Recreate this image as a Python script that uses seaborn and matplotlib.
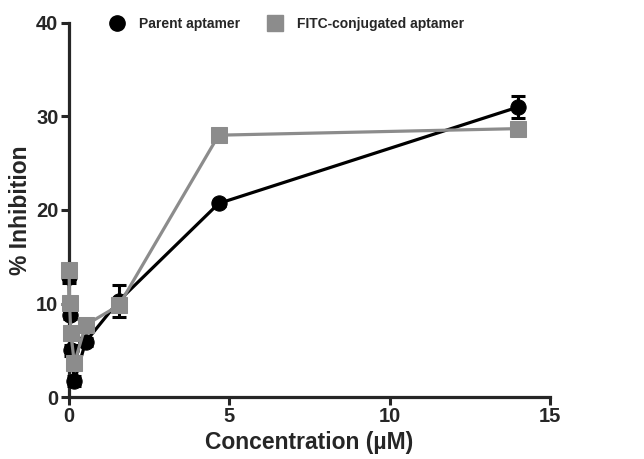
import matplotlib
matplotlib.use("Agg")
import matplotlib.pyplot as plt
import seaborn as sns
import pandas as pd
from matplotlib.lines import Line2D

conc = [0.0064, 0.019, 0.058, 0.17, 0.52, 1.56, 4.67, 14.0]
parent = [12.8, 8.8, 5.0, 1.7, 5.9, 10.3, 20.7, 31.0]
parent_err = [0.6, 0.5, 0.6, 0.5, 0.4, 1.7, 0.3, 1.2]
fitc = [13.6, 10.1, 6.9, 3.6, 7.7, 9.8, 28.0, 28.7]
fitc_err = [0.4, 0.4, 0.4, 0.4, 0.3, 0.5, 0.3, 0.4]
series_names = ["Parent aptamer", "FITC-conjugated aptamer"]
xticks = [0, 5, 10, 15]
yticks = [0, 10, 20, 30, 40]

sns.set_style("ticks")
plt.rcParams["font.family"] = ["Liberation Sans", "DejaVu Sans"]
plt.rcParams["font.weight"] = "bold"

fig = plt.figure(figsize=(6.44, 4.59), dpi=100)
ax = fig.add_axes([0.107, 0.135, 0.747, 0.815])

df = pd.DataFrame({
    "x": conc + conc,
    "y": parent + fitc,
    "s": [series_names[0]] * len(conc) + [series_names[1]] * len(conc),
})

black = "#000000"
gray = "#8c8c8c"

ax.errorbar(conc, parent, yerr=parent_err, fmt="none", ecolor=black,
            elinewidth=2.2, capsize=5, capthick=2.2, zorder=2)
sns.lineplot(data=df[df.s == series_names[0]], x="x", y="y", ax=ax,
             color=black, marker="o", markersize=11, markeredgecolor=black,
             linewidth=2.3, legend=False, zorder=3)
ax.errorbar(conc, fitc, yerr=fitc_err, fmt="none", ecolor=gray,
            elinewidth=2.2, capsize=5, capthick=2.2, zorder=4)
sns.lineplot(data=df[df.s == series_names[1]], x="x", y="y", ax=ax,
             color=gray, marker="s", markersize=11, markeredgecolor=gray,
             linewidth=2.3, legend=False, zorder=5)

ax.set_xlim(0, 15)
ax.set_ylim(0, 40)
ax.set_xticks(xticks)
ax.set_yticks(yticks)
ax.set_xlabel("Concentration (\u00b5M)", fontsize=16.5, fontweight="bold", labelpad=3)
ax.set_ylabel("% Inhibition", fontsize=16.5, fontweight="bold", labelpad=3)
for lab in ax.get_xticklabels() + ax.get_yticklabels():
    lab.set_fontsize(14.5)
    lab.set_fontweight("bold")
ax.tick_params(width=2.2, length=6, direction="out", pad=1.5)
for sp in ["top", "right"]:
    ax.spines[sp].set_visible(False)
for sp in ["left", "bottom"]:
    ax.spines[sp].set_linewidth(2.3)
    ax.spines[sp].set_zorder(1)

handles = [
    Line2D([], [], color=black, marker="o", markersize=11, linewidth=0),
    Line2D([], [], color=gray, marker="s", markersize=11, linewidth=0),
]
leg = ax.legend(handles, series_names, loc="upper left", ncol=2,
                bbox_to_anchor=(0.045, 1.05), frameon=False,
                prop={"size": 10, "weight": "bold"}, columnspacing=1.5,
                handletextpad=0.6)

for line in ax.lines:
    line.set_clip_on(False)

fig.savefig("out.png", dpi=100)
